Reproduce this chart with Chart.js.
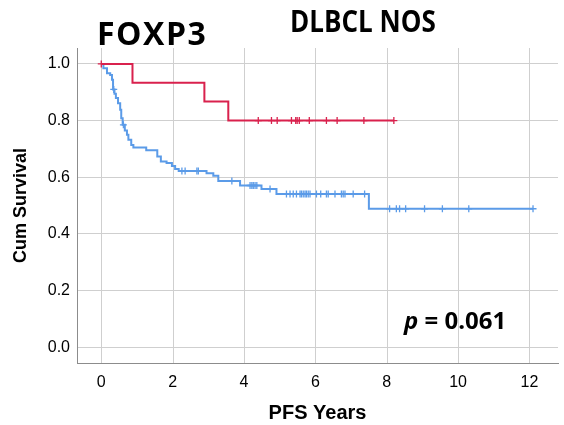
<!DOCTYPE html>
<html>
<head>
<meta charset="utf-8">
<script src="https://cdn.jsdelivr.net/npm/chart.js@4.4.1/dist/chart.umd.min.js"></script>
<style>
  body { margin: 0; background: #fff; }
  #wrap { position: relative; width: 564px; height: 425px; }
  .note { position: absolute; font-family: 'Open Sans', sans-serif; font-weight: 700; color: #000; white-space: nowrap; line-height: 1; transform-origin: left top; }
</style>
</head>
<body>
<div id="wrap">
  <canvas id="kmChart" width="564" height="425"></canvas>
  <div class="note" style="left:97px; top:17px; font-size:32px; letter-spacing:1.5px;">FOXP3</div>
  <div class="note" style="left:290px; top:5px; font-size:31px; transform:scaleX(0.84);">DLBCL NOS</div>
  <div class="note" style="left:404px; top:308px; font-size:24px;"><i>p</i> = 0.061</div>
</div>
<script>
// tick labels
const xTicks = [0, 2, 4, 6, 8, 10, 12];
const yTicks = [0, 0.2, 0.4, 0.6, 0.8, 1.0];
const yTickLabels = ['0.0', '0.2', '0.4', '0.6', '0.8', '1.0'];

// FOXP3 positive group (red): event times and survival after each event
const redEventTimes = [0.875, 2.89, 3.56];
const redSurvival   = [0.933, 0.867, 0.80];
const redEnd = 8.2;
const redCensored = [0.0, 4.40, 4.77, 4.93, 5.33, 5.45, 5.49, 5.55, 5.83, 6.31, 6.61, 7.36, 8.20];

// FOXP3 negative group (blue)
const blueEventTimes = [0.06, 0.16, 0.25, 0.30, 0.33, 0.37, 0.41, 0.47, 0.53, 0.56, 0.60, 0.66, 0.72, 0.76, 0.84, 0.90,
                        1.26, 1.57, 1.67, 1.83, 1.98, 2.07, 2.17, 2.95, 3.14, 3.28, 3.89, 4.49, 4.91, 7.50];
const blueSurvival   = [0.985, 0.967, 0.961, 0.944, 0.91, 0.895, 0.88, 0.861, 0.838, 0.808, 0.785, 0.765, 0.75, 0.732, 0.714, 0.705,
                        0.695, 0.673, 0.656, 0.650, 0.640, 0.629, 0.622, 0.614, 0.605, 0.587, 0.571, 0.559, 0.541, 0.489];
const blueEnd = 12.1;
const blueCensored = [0.35, 0.62, 2.26, 2.35, 2.68, 2.72, 3.66, 4.17, 4.22, 4.26, 4.31, 4.36, 4.73,
                      5.19, 5.29, 5.38, 5.47, 5.57, 5.61, 5.66, 5.71, 5.75, 5.80, 5.85, 6.03, 6.15,
                      6.31, 6.36, 6.55, 6.73, 6.78, 6.83, 7.06, 7.38, 8.08, 8.27, 8.36, 8.53, 9.06, 9.56, 10.30, 12.1];

const RED = '#d9214d';
const BLUE = '#5b9be8';
const GRID = '#cfcfcf';

function stepPoints(times, surv, end) {
    const pts = [{ x: 0, y: 1 }];
    times.forEach((t, i) => pts.push({ x: t, y: surv[i] }));
    pts.push({ x: end, y: surv[surv.length - 1] });
    return pts;
}

// survival level at time t (to place censor marks on the curve)
function survAt(times, surv, t) {
    let s = 1;
    for (let i = 0; i < times.length; i++) {
        if (times[i] <= t) s = surv[i];
    }
    return s;
}

function censorPoints(times, surv, cens) {
    return cens.map(t => ({ x: t, y: survAt(times, surv, t) }));
}

// vertical grid lines only at the x ticks (the built-in one adds an edge line)
const xGridPlugin = {
    id: 'xGrid',
    beforeDatasetsDraw(chart) {
        const { ctx, chartArea, scales } = chart;
        ctx.save();
        ctx.strokeStyle = GRID;
        ctx.lineWidth = 1;
        xTicks.forEach(v => {
            const px = Math.round(scales.x.getPixelForValue(v)) + 0.5;
            ctx.beginPath();
            ctx.moveTo(px, chartArea.top);
            ctx.lineTo(px, chartArea.bottom);
            ctx.stroke();
        });
        ctx.restore();
    }
};

const ctx = document.getElementById('kmChart').getContext('2d');

new Chart(ctx, {
    type: 'scatter',
    plugins: [xGridPlugin],
    data: {
        datasets: [
            {
                data: censorPoints(redEventTimes, redSurvival, redCensored),
                showLine: false,
                pointStyle: 'cross',
                pointRadius: 3.5,
                borderColor: RED,
                pointBorderWidth: 1.3,
                order: 0
            },
            {
                data: stepPoints(redEventTimes, redSurvival, redEnd),
                showLine: true,
                stepped: 'before',
                borderColor: RED,
                borderWidth: 2,
                pointRadius: 0,
                order: 1
            },
            {
                data: censorPoints(blueEventTimes, blueSurvival, blueCensored),
                showLine: false,
                pointStyle: 'cross',
                pointRadius: 3.5,
                borderColor: BLUE,
                pointBorderWidth: 1.3,
                order: 2
            },
            {
                data: stepPoints(blueEventTimes, blueSurvival, blueEnd),
                showLine: true,
                stepped: 'before',
                borderColor: BLUE,
                borderWidth: 2,
                pointRadius: 0,
                order: 3
            }
        ]
    },
    options: {
        responsive: false,
        animation: false,
        layout: { padding: { top: 48, right: 6, left: 0, bottom: 0 } },
        plugins: {
            legend: { display: false },
            tooltip: { enabled: false }
        },
        scales: {
            x: {
                type: 'linear',
                min: -0.68,
                max: 12.8,
                afterBuildTicks: (scale) => { scale.ticks = xTicks.map(v => ({ value: v })); },
                afterFit: (scale) => { scale.height = 62; },
                grid: { display: false, drawTicks: false },
                border: { color: '#8c8c8c', width: 1 },
                ticks: {
                    color: '#000',
                    padding: 10,
                    font: { family: 'Liberation Sans, Arial, sans-serif', size: 16 },
                    callback: (v) => String(v)
                },
                title: {
                    display: true,
                    text: 'PFS Years',
                    color: '#000',
                    font: { family: 'Liberation Sans, Arial, sans-serif', size: 20, weight: 'bold' },
                    padding: { top: 0, bottom: 0 }
                }
            },
            y: {
                min: -0.055,
                max: 1.056,
                afterBuildTicks: (scale) => { scale.ticks = yTicks.map(v => ({ value: v })); },
                afterFit: (scale) => { scale.width = 77; },
                grid: { color: GRID, lineWidth: 1, drawTicks: false },
                border: { color: '#8c8c8c', width: 1 },
                ticks: {
                    color: '#000',
                    padding: 7,
                    font: { family: 'Liberation Sans, Arial, sans-serif', size: 16 },
                    callback: (v) => yTickLabels[yTicks.findIndex(t => Math.abs(t - v) < 1e-6)]
                },
                title: {
                    display: true,
                    text: 'Cum Survival',
                    color: '#000',
                    font: { family: 'Liberation Sans, Arial, sans-serif', size: 18, weight: 'bold' },
                    padding: { top: 10, bottom: 0 }
                }
            }
        }
    }
});
</script>
</body>
</html>
